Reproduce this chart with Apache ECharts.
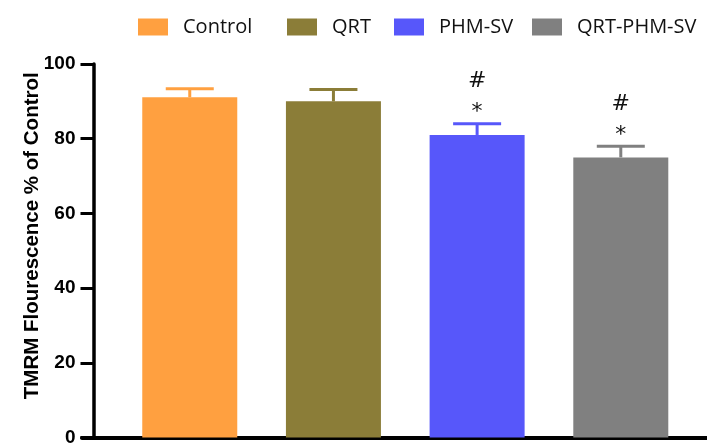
<!DOCTYPE html>
<html>
<head>
<meta charset="utf-8">
<title>TMRM Fluorescence</title>
<script src="https://cdn.jsdelivr.net/npm/echarts@6/dist/echarts.min.js"></script>
<style>
  html, body { margin: 0; padding: 0; background: #fff; }
  #chart { width: 707px; height: 447px; }
</style>
</head>
<body>
<div id="chart"></div>
<script>
// Groups, means and upper error (mean + SEM) in % of control
const groups = ['Control', 'QRT', 'PHM-SV', 'QRT-PHM-SV'];
const means = [91.1, 90.0, 81.0, 75.0];
const sem = [2.3, 3.2, 3.0, 3.0];
const hashMarks = ['', '', '#', '#'];
const starMarks = ['', '', '*', '*'];
const yTicks = [0, 20, 40, 60, 80, 100];

const colors = ['#FFA040', '#8B7D38', '#5757FA', '#808080'];
const legendLeft = [138, 287, 394, 532];

const chart = echarts.init(document.getElementById('chart'), null, { renderer: 'canvas' });

const barSeries = groups.map((g, i) => ({
  name: g,
  type: 'bar',
  barWidth: 95,
  barGap: '-100%',
  itemStyle: { color: colors[i] },
  data: [[i, means[i]]],
  z: 2
}));

const errData = groups.map((g, i) => [i, means[i], means[i] + sem[i]]);

const errorSeries = {
  type: 'custom',
  name: 'error',
  data: errData,
  z: 3,
  silent: true,
  renderItem: function (params, api) {
    const i = api.value(0);
    const top = api.coord([i, api.value(2)]);
    const base = api.coord([i, api.value(1)]);
    const c = colors[i];
    const style = { stroke: c, lineWidth: 3 };
    return {
      type: 'group',
      children: [
        { type: 'line', shape: { x1: top[0], y1: base[1], x2: top[0], y2: top[1] }, style: style },
        { type: 'line', shape: { x1: top[0] - 24, y1: top[1], x2: top[0] + 24, y2: top[1] }, style: style }
      ]
    };
  }
};

const markSeries = {
  type: 'custom',
  name: 'marks',
  data: errData,
  z: 4,
  silent: true,
  renderItem: function (params, api) {
    const i = api.value(0);
    const p = api.coord([i, api.value(2)]);
    const font = '22px "DejaVu Sans", "Liberation Sans", sans-serif';
    return {
      type: 'group',
      children: [
        { type: 'text', x: p[0], y: p[1] - 11, style: { text: starMarks[i], font: font, fill: '#111', align: 'center', verticalAlign: 'middle' } },
        { type: 'text', x: p[0], y: p[1] - 42, style: { text: hashMarks[i], font: font, fill: '#111', align: 'center', verticalAlign: 'middle' } }
      ]
    };
  }
};

const legends = groups.map((g, i) => ({
  data: [g],
  left: legendLeft[i],
  top: 17,
  padding: 0,
  itemWidth: 30,
  itemHeight: 17,
  icon: 'rect',
  selectedMode: false,
  textStyle: {
    fontFamily: '"Open Sans", "Noto Sans", sans-serif',
    fontSize: 20,
    color: '#111',
    padding: [0, 0, 0, 10]
  }
}));

chart.setOption({
  animation: false,
  backgroundColor: '#fff',
  legend: legends,
  grid: { left: 82, right: 0, top: 64, bottom: 4, containLabel: false },
  xAxis: {
    type: 'value',
    min: -0.75,
    max: 3.6,
    axisLine: { show: true, onZero: false, lineStyle: { color: '#000', width: 4 } },
    axisTick: { show: false },
    axisLabel: { show: false },
    splitLine: { show: false }
  },
  yAxis: {
    type: 'value',
    min: yTicks[0],
    max: yTicks[yTicks.length - 1],
    interval: yTicks[1] - yTicks[0],
    offset: -11.5,
    name: 'TMRM Flourescence % of Control',
    nameLocation: 'middle',
    nameGap: 51,
    nameMoveOverlap: false,
    nameTextStyle: {
      fontFamily: '"Liberation Sans", Arial, sans-serif',
      fontWeight: 'bold',
      fontSize: 20.5,
      color: '#000',
      padding: [0, 0, 0, 30]
    },
    axisLine: { show: true, onZero: false, lineStyle: { color: '#000', width: 3.5 } },
    axisTick: { show: true, length: 13, lineStyle: { color: '#000', width: 3 } },
    axisLabel: {
      margin: 18,
      fontFamily: '"Liberation Sans", Arial, sans-serif',
      fontWeight: 'bold',
      fontSize: 19,
      color: '#000'
    },
    splitLine: { show: false }
  },
  series: [...barSeries, errorSeries, markSeries]
});
</script>
</body>
</html>
